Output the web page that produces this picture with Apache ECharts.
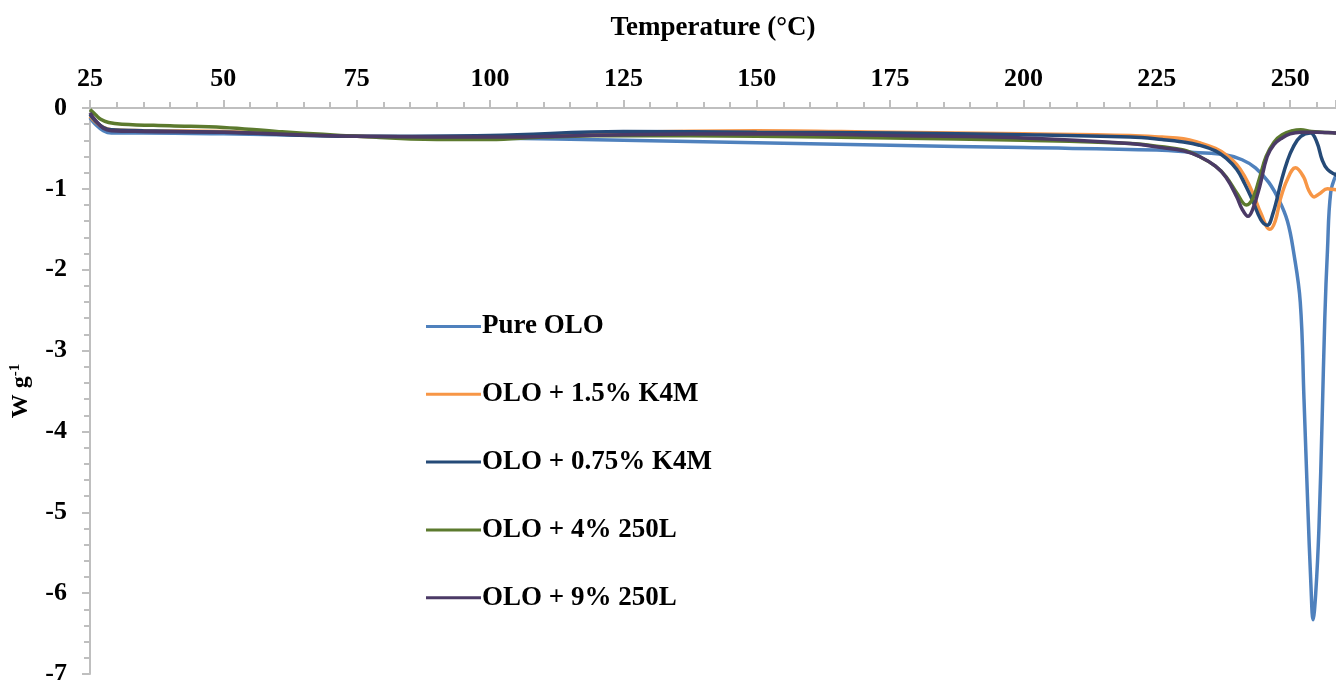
<!DOCTYPE html>
<html>
<head>
<meta charset="utf-8">
<script src="https://cdn.jsdelivr.net/npm/echarts@6/dist/echarts.min.js"></script>
<style>
  html, body { margin: 0; padding: 0; background: #ffffff; }
  #chart { width: 1336px; height: 680px; }
</style>
</head>
<body>
<div id="chart"></div>
<script>
// DSC heat flow curves (W g-1) versus temperature (°C)
const seriesNames = ['Pure OLO', 'OLO + 1.5% K4M', 'OLO + 0.75% K4M', 'OLO + 4% 250L', 'OLO + 9% 250L'];
const seriesColors = ['#4f81bd', '#f79646', '#254a77', '#5c7a2e', '#4b3a66'];

const pureT = [25, 26, 27.5, 29, 35, 50, 75, 100, 125, 150, 175, 200, 225, 232, 238, 241, 243.5, 246, 248, 249.5, 250.6, 251.9, 252.6, 253.3, 253.9, 254.3, 254.8, 255.4, 256, 256.5, 257, 257.6, 258.6, 260];
const pureW = [-0.12, -0.2, -0.28, -0.31, -0.31, -0.32, -0.35, -0.37, -0.40, -0.43, -0.46, -0.49, -0.52, -0.55, -0.58, -0.64, -0.74, -0.92, -1.15, -1.4, -1.76, -2.4, -3.6, -4.9, -5.9, -6.33, -6.0, -5.2, -3.85, -2.6, -1.76, -1.05, -0.83, -0.7];

const k4m15T = [25, 26, 27.5, 29, 35, 50, 75, 100, 125, 150, 175, 200, 220, 226, 230, 233, 236, 238, 240, 241.5, 243, 244.5, 246.2, 247.2, 248.2, 249.5, 251, 252.5, 253.5, 254.5, 255.5, 257, 258.6, 260];
const k4m15W = [-0.1, -0.17, -0.24, -0.27, -0.28, -0.29, -0.35, -0.36, -0.3, -0.28, -0.3, -0.32, -0.34, -0.36, -0.38, -0.43, -0.5, -0.58, -0.7, -0.85, -1.05, -1.3, -1.5, -1.4, -1.12, -0.88, -0.74, -0.85, -1.02, -1.1, -1.06, -1.0, -1.01, -1.0];

const k4m075T = [25, 26, 27.5, 29, 35, 50, 75, 100, 125, 150, 175, 200, 220, 226, 230, 233, 236, 238, 240, 241.5, 243, 244.5, 245.7, 246.8, 248.4, 249.5, 250.6, 252, 253.8, 255, 256, 257, 258.6, 260];
const k4m075W = [-0.08, -0.16, -0.24, -0.27, -0.28, -0.3, -0.35, -0.34, -0.29, -0.3, -0.31, -0.33, -0.36, -0.39, -0.42, -0.46, -0.53, -0.62, -0.76, -0.94, -1.15, -1.38, -1.45, -1.3, -0.89, -0.65, -0.48, -0.35, -0.31, -0.42, -0.64, -0.76, -0.83, -0.88];

const l250x4T = [25, 26, 27, 28.5, 31, 40, 50, 60, 75, 90, 100, 110, 125, 150, 175, 200, 220, 226, 230, 233, 236, 238, 240, 241.8, 243, 244.2, 245.5, 247, 248.5, 250.5, 252, 254, 256, 258.6, 260];
const l250x4W = [-0.02, -0.08, -0.14, -0.18, -0.2, -0.22, -0.24, -0.29, -0.35, -0.39, -0.39, -0.36, -0.34, -0.35, -0.37, -0.40, -0.44, -0.48, -0.52, -0.6, -0.72, -0.85, -1.05, -1.2, -1.12, -0.88, -0.6, -0.42, -0.33, -0.28, -0.27, -0.29, -0.3, -0.31, -0.32];

const l250x9T = [25, 26, 27.5, 29, 35, 50, 75, 100, 125, 150, 175, 200, 220, 226, 230, 233, 236, 238, 240, 241, 242.1, 243, 244.3, 245.7, 247, 248.5, 250, 252, 255, 258.6, 260];
const l250x9W = [-0.06, -0.15, -0.25, -0.28, -0.29, -0.3, -0.35, -0.36, -0.33, -0.32, -0.34, -0.37, -0.44, -0.49, -0.53, -0.6, -0.72, -0.86, -1.1, -1.25, -1.34, -1.25, -0.97, -0.6, -0.45, -0.37, -0.32, -0.3, -0.3, -0.31, -0.32];

const xTicks = { min: 25, max: 258.6, interval: 25 };
const yTicks = { min: -7, max: 0, interval: 1 };

const curves = [
  [pureT, pureW],
  [k4m15T, k4m15W],
  [k4m075T, k4m075W],
  [l250x4T, l250x4W],
  [l250x9T, l250x9W]
];

const font = '"Liberation Serif", "Times New Roman", serif';
const axisGrey = '#bfbfbf';

const chart = echarts.init(document.getElementById('chart'), null, { renderer: 'canvas' });

chart.setOption({
  backgroundColor: '#ffffff',
  animation: false,
  grid: { left: 90, right: 0, top: 108, bottom: 6, outerBoundsMode: 'none', containLabel: false },
  legend: {
    orient: 'vertical',
    left: 421,
    top: 308,
    icon: 'rect',
    itemWidth: 55,
    itemHeight: 3,
    itemGap: 40.8,
    data: seriesNames,
    textStyle: {
      fontFamily: font, fontWeight: 'bold', fontSize: 27, color: '#000000',
      lineHeight: 27, padding: [0, 0, 0, -4]
    }
  },
  xAxis: {
    type: 'value',
    position: 'top',
    min: xTicks.min,
    max: xTicks.max,
    interval: xTicks.interval,
    name: 'Temperature (°C)',
    nameLocation: 'middle',
    nameGap: 66,
    nameTextStyle: { fontFamily: font, fontWeight: 'bold', fontSize: 27, color: '#000000' },
    axisLine: { show: true, onZero: false, lineStyle: { color: axisGrey, width: 2 } },
    axisTick: { show: true, length: 8, lineStyle: { color: axisGrey, width: 2 } },
    minorTick: { show: true, splitNumber: 5, length: 6, lineStyle: { color: axisGrey, width: 2 } },
    splitLine: { show: false },
    axisLabel: {
      margin: 16,
      fontFamily: font, fontWeight: 'bold', fontSize: 26, color: '#000000',
      formatter: v => (v % 25 === 0 ? String(v) : '')
    }
  },
  yAxis: {
    type: 'value',
    min: yTicks.min,
    max: yTicks.max,
    interval: yTicks.interval,
    name: 'W g{sup|-1}',
    nameLocation: 'middle',
    nameRotate: 90,
    nameGap: 57,
    nameTextStyle: {
      fontFamily: font, fontWeight: 'bold', fontSize: 24, color: '#000000',
      rich: {
        sup: { fontFamily: font, fontWeight: 'bold', fontSize: 15, color: '#000000', verticalAlign: 'top', padding: [0, 0, 10, 0] }
      }
    },
    axisLine: { show: true, onZero: false, lineStyle: { color: axisGrey, width: 2 } },
    axisTick: { show: true, length: 8, lineStyle: { color: axisGrey, width: 2 } },
    minorTick: { show: true, splitNumber: 5, length: 6, lineStyle: { color: axisGrey, width: 2 } },
    splitLine: { show: false },
    axisLabel: {
      margin: 23,
      fontFamily: font, fontWeight: 'bold', fontSize: 26, color: '#000000'
    }
  },
  series: curves.map((c, i) => ({
    name: seriesNames[i],
    type: 'line',
    data: c[0].map((t, j) => [t, c[1][j]]),
    smooth: 0.4,
    showSymbol: false,
    symbol: 'none',
    clip: true,
    color: seriesColors[i],
    lineStyle: { width: 3.5, color: seriesColors[i] },
    z: 2 + i
  }))
});
</script>
</body>
</html>
